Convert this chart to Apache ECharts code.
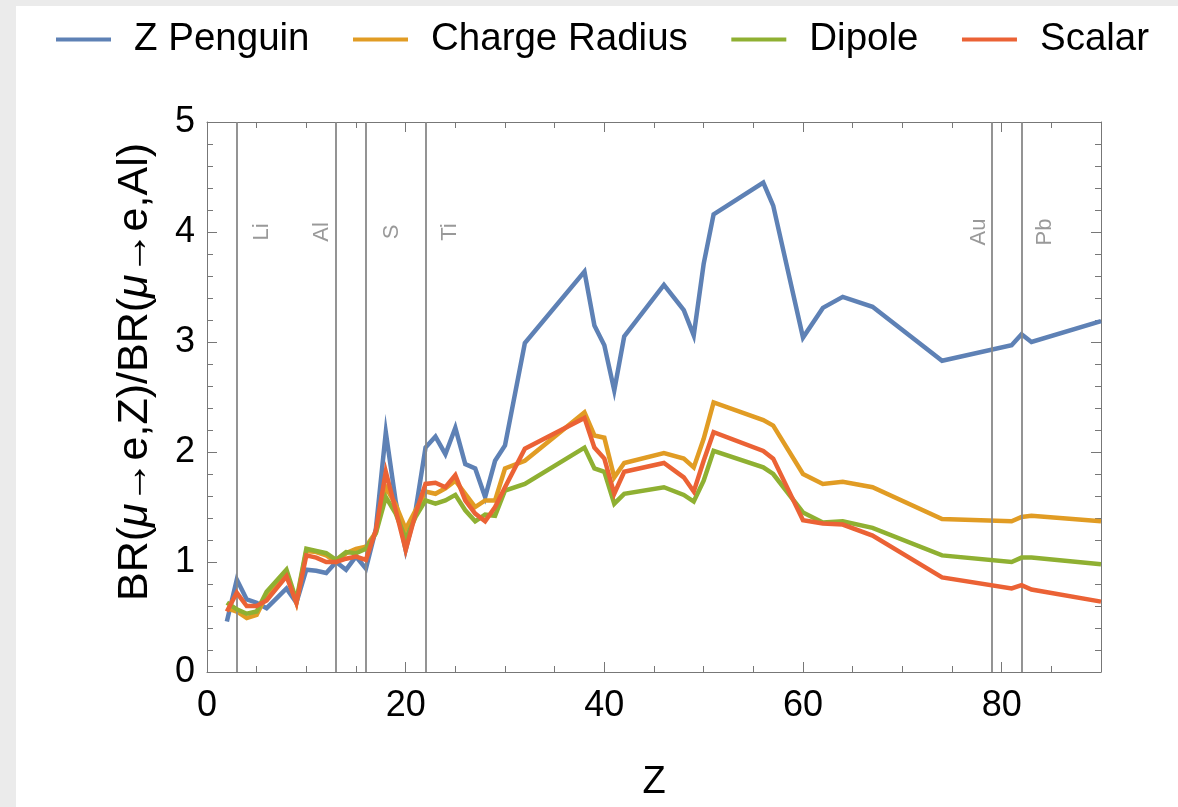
<!DOCTYPE html>
<html>
<head>
<meta charset="utf-8">
<script src="https://cdn.jsdelivr.net/npm/echarts@6/dist/echarts.min.js"></script>
<style>
html,body{margin:0;padding:0;background:#fff;}
#c{width:1178px;height:807px;}
</style>
</head>
<body>
<div id="c"></div>
<script>
// ---- data ----
const Z = [2,3,4,5,6,7,8,9,10,11,12,13,14,15,16,17,18,19,20,21,22,23,24,25,26,27,28,29,30,32,38,39,40,41,42,46,48,49,50,51,56,57,60,62,64,67,74,81,82,83,90];
const zPenguin = [0.46,0.84,0.66,0.63,0.58,0.67,0.76,0.63,0.93,0.92,0.90,1.00,0.93,1.05,0.94,1.30,2.18,1.55,1.11,1.47,2.04,2.14,1.98,2.22,1.89,1.85,1.59,1.92,2.06,2.99,3.64,3.15,2.97,2.56,3.05,3.52,3.29,3.06,3.71,4.16,4.45,4.24,3.04,3.31,3.41,3.32,2.83,2.97,3.07,3.00,3.19];
const chargeRadius = [0.58,0.55,0.49,0.52,0.70,0.80,0.90,0.63,1.10,1.09,1.06,1.00,1.08,1.12,1.14,1.27,1.68,1.52,1.30,1.47,1.64,1.62,1.67,1.74,1.62,1.50,1.56,1.56,1.85,1.92,2.36,2.15,2.13,1.77,1.90,1.99,1.94,1.86,2.12,2.45,2.29,2.24,1.80,1.71,1.73,1.68,1.39,1.37,1.41,1.42,1.37];
const dipole = [0.63,0.57,0.53,0.55,0.73,0.83,0.93,0.65,1.12,1.10,1.08,1.02,1.09,1.08,1.12,1.26,1.59,1.44,1.21,1.41,1.56,1.53,1.56,1.61,1.47,1.37,1.43,1.42,1.65,1.71,2.04,1.85,1.82,1.53,1.62,1.68,1.61,1.55,1.74,2.01,1.86,1.80,1.45,1.36,1.37,1.31,1.06,1.00,1.04,1.04,0.98];
const scalar = [0.55,0.72,0.60,0.60,0.65,0.76,0.87,0.63,1.06,1.04,1.00,1.00,1.03,1.05,1.02,1.29,1.82,1.47,1.11,1.44,1.71,1.72,1.68,1.79,1.56,1.44,1.37,1.50,1.68,2.03,2.31,2.04,1.94,1.62,1.82,1.90,1.77,1.64,1.92,2.18,2.01,1.94,1.38,1.35,1.34,1.24,0.86,0.76,0.79,0.75,0.64];
const seriesNames = ['Z Penguin','Charge Radius','Dipole','Scalar'];
const elementZ = [3,13,16,22,79,82];
const elementNames = ['Li','Al','S','Ti','Au','Pb'];
const elementLabelY = 4.0;
const xTicks = [0,20,40,60,80];
const yTicks = [0,1,2,3,4,5];

// ---- styling ----
const colors = ['#5e81b5','#e19c24','#8fb032','#eb6235'];
const labelOffsets = [25,-14,26,24,-13,23];
const FONT = 'Liberation Sans, Arial, Helvetica, sans-serif';
const frameColor = '#777';

const chart = echarts.init(document.getElementById('c'), null, {renderer:'canvas'});
const pair = (arr) => Z.map((z,i)=>[z,arr[i]]);
const allData = [zPenguin, chargeRadius, dipole, scalar];

const axisCommonX = {
  type:'value', min:0, max:90, interval:20,
  axisLine:{show:true, onZero:false, lineStyle:{color:frameColor, width:1}},
  axisTick:{show:true, inside:true, length:10, lineStyle:{color:frameColor, width:1}},
  minorTick:{show:true, splitNumber:4, length:6, lineStyle:{color:frameColor, width:1}},
  splitLine:{show:false}
};
const axisCommonY = {
  type:'value', min:0, max:5, interval:1,
  axisLine:{show:true, onZero:false, lineStyle:{color:frameColor, width:1}},
  axisTick:{show:true, inside:true, length:10, lineStyle:{color:frameColor, width:1}},
  minorTick:{show:true, splitNumber:5, length:6, lineStyle:{color:frameColor, width:1}},
  splitLine:{show:false}
};

const lineSeries = seriesNames.map((n,i)=>({
  name:n, type:'line', data:pair(allData[i]), xAxisIndex:0, yAxisIndex:0,
  showSymbol:false, symbol:'none', clip:true, z:3+i,
  lineStyle:{color:colors[i], width:4.5, join:'miter'},
  itemStyle:{color:colors[i]}
}));

const option = {
  animation:false,
  backgroundColor:'#ffffff',
  color:colors,
  graphic:[
    {type:'rect', z:-10, shape:{x:0,y:0,width:16,height:807}, style:{fill:'#ebebeb'}},
    {type:'rect', z:-10, shape:{x:0,y:0,width:1178,height:6}, style:{fill:'#ebebeb'}}
  ],
  legend:{
    data:seriesNames, left:56, top:20, padding:0, icon:'rect', itemWidth:55, itemHeight:4,
    itemGap:43.5,
    textStyle:{fontFamily:FONT, fontSize:38.5, color:'#000', padding:[0,0,0,18]}
  },
  grid:{left:207, top:122, right:77, bottom:131, containLabel:false},
  xAxis:[
    Object.assign({}, axisCommonX, {
      position:'bottom', name:'Z', nameLocation:'middle', nameGap:92,
      nameTextStyle:{fontFamily:FONT, fontSize:38, color:'#000'},
      axisLabel:{show:true, margin:16, fontFamily:FONT, fontSize:36, color:'#000',
        formatter:(v)=> xTicks.indexOf(v)>=0 ? String(v) : ''}
    }),
    Object.assign({}, axisCommonX, {position:'top', axisLabel:{show:false}})
  ],
  yAxis:[
    Object.assign({}, axisCommonY, {
      position:'left', nameLocation:'middle', nameGap:50,
      name:'{n|BR(}{i|μ}{n|→e,Z)/BR(}{i|μ}{n|→e,Al)}',
      nameTextStyle:{padding:[0,0,0,50], rich:{
        n:{fontFamily:FONT, fontSize:43, color:'#000'},
        i:{fontFamily:FONT, fontSize:43, color:'#000', fontStyle:'italic'}
      }},
      axisLabel:{show:true, margin:12, fontFamily:FONT, fontSize:36, color:'#000',
        formatter:(v)=> yTicks.indexOf(v)>=0 ? String(v) : ''}
    }),
    Object.assign({}, axisCommonY, {position:'right', axisLabel:{show:false}})
  ],
  series:[
    {
      name:'elements', type:'line', data:[], xAxisIndex:0, yAxisIndex:0,
      silent:true, z:2,
      markLine:{
        silent:true, symbol:['none','none'], animation:false,
        label:{show:false},
        lineStyle:{color:'#888', width:1.8, type:'solid'},
        data:elementZ.map(z=>({xAxis:z}))
      }
    },
    {
      name:'elementLabels', type:'scatter', xAxisIndex:0, yAxisIndex:0,
      symbolSize:0, silent:true, z:2,
      data:elementZ.map((z,i)=>({
        value:[z, elementLabelY], name:elementNames[i],
        label:{offset:[0,labelOffsets[i]]}
      })),
      label:{show:true, position:'inside', rotate:90, formatter:(p)=>p.name,
        fontFamily:FONT, fontSize:22, color:'#808080'}
    }
  ].concat(lineSeries)
};
chart.setOption(option);
</script>
</body>
</html>
